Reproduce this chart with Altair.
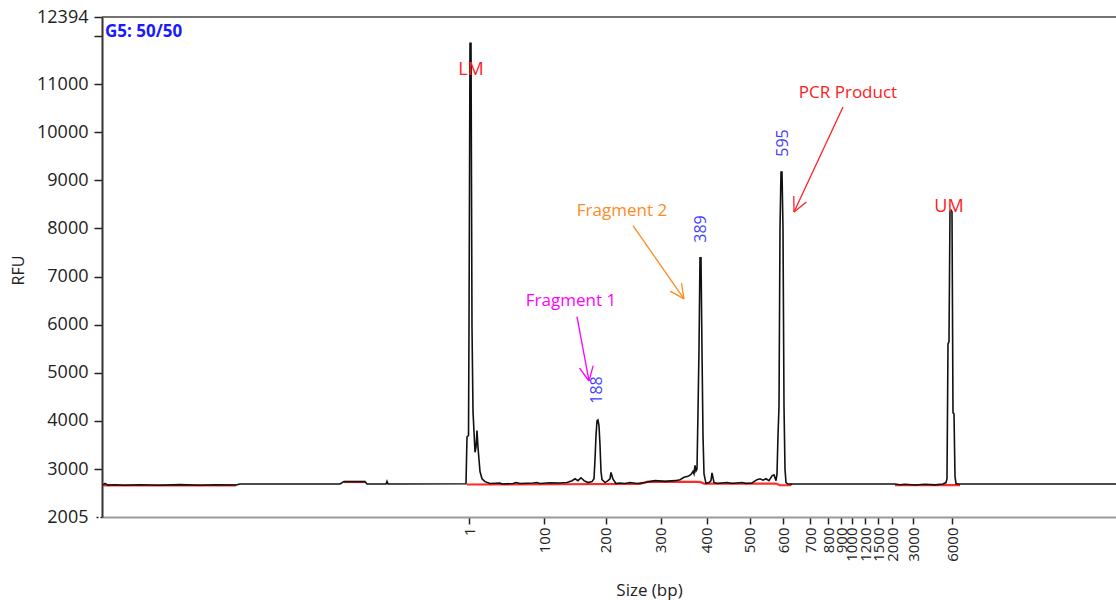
import math
import altair as alt
import pandas as pd

# ---------------- data ----------------
# black electropherogram trace (scan position, RFU)
trace_x = [103, 105, 108, 115, 125, 140, 160, 180, 200, 215, 236, 240,
           340, 344, 365, 367, 386, 387, 388,
           466, 467, 468.5, 469, 470, 471, 472, 473, 475, 476, 477, 478, 479, 480, 482, 485, 490,
           500, 502, 513, 516, 520, 533, 537, 540, 550, 560, 567, 572, 575, 578, 581, 584, 588, 592,
           594, 595, 596, 597, 598, 599, 600, 601, 602, 605, 608, 610, 611, 613, 616, 620, 625, 630,
           637, 645, 650, 655, 665, 675, 680, 684, 688, 691, 693, 694, 695, 696, 697,
           698, 699, 700, 701, 702, 703, 704, 706, 709, 711, 712, 714, 717, 722, 727, 732, 737, 742,
           746, 752, 757, 760, 763, 766, 769, 772, 774, 776, 777,
           778, 779, 780, 781, 782, 783, 784, 785, 786, 788,
           895, 900, 905, 915, 925, 935, 943, 946,
           947, 948, 949, 950, 951, 952, 953, 954, 955, 956, 958, 1116]
trace_rfu = [2672, 2700, 2668, 2676, 2664, 2676, 2666, 2677, 2666, 2676, 2670, 2690,
             2690, 2740, 2740, 2690, 2690, 2745, 2690,
             2695, 3667, 3700, 5950, 11850, 11850, 5950, 4200, 3350, 3450, 3800, 3450, 3200, 2950, 2800, 2740, 2700,
             2712, 2690, 2702, 2722, 2700, 2712, 2722, 2700, 2716, 2710, 2722, 2760, 2800, 2760, 2820, 2760, 2720, 2740,
             2800, 3200, 3700, 4000, 4020, 3900, 3500, 2950, 2780, 2720, 2760, 2800, 2930, 2790, 2700, 2712, 2700, 2722,
             2700, 2722, 2742, 2760, 2745, 2760, 2780, 2830, 2850, 2890, 2950, 2900, 3080, 2960, 3000,
             4200, 5500, 7390, 7390, 5450, 3700, 2900, 2700, 2722, 2760, 2920, 2722, 2700, 2712, 2722, 2700, 2712, 2722,
             2700, 2712, 2780, 2800, 2770, 2800, 2760, 2860, 2880, 2760, 2900,
             3700, 4300, 8000, 9170, 9170, 8000, 4300, 3000, 2720, 2690,
             2690, 2676, 2686, 2670, 2686, 2672, 2690, 2720,
             2800, 5600, 5650, 8350, 8380, 8350, 4170, 4150, 2850, 2700, 2690, 2690]

# red baseline (segments)
base_seg = ["a", "a", "b", "b", "c", "c", "c", "c", "c", "c", "c", "c", "c", "c", "d", "d"]
base_x = [103, 236, 344, 365, 467, 560, 640, 648, 700, 704, 776, 780, 790, 792, 895, 960]
base_rfu = [2662, 2662, 2732, 2732, 2680, 2685, 2695, 2738, 2735, 2700, 2700, 2665, 2665, 2688, 2668, 2668]

# size ladder on the x axis
ladder_sizes = ["1", "100", "200", "300", "400", "500", "600", "700", "800", "900",
                "1000", "1200", "1500", "2000", "3000", "6000"]
ladder_pos = [469, 544, 605.5, 660.5, 706.5, 749.5, 783, 810, 828, 841,
              851.5, 865, 878, 892, 913, 952]

y_ticks = [2005, 3000, 4000, 5000, 6000, 7000, 8000, 9000, 10000, 11000, 12000, 12394]

# marker labels
marker_text = ["LM", "UM"]
marker_x = [471, 949]
marker_rfu = [11293, 8446]

# called peak sizes
peak_text = ["188", "389", "595"]
peak_x = [597, 701, 783]
peak_rfu = [4644, 7989, 9776]

# annotations
note_text = ["Fragment 1", "Fragment 2", "PCR Product"]
note_color = ["#ff00ff", "#ff8a1e", "#ff2020"]
note_x = [571, 622, 848]
note_rfu = [6493, 8363, 10815]
arrow_x1 = [577, 633, 843]
arrow_rfu1 = [6170, 8061, 10522]
arrow_x2 = [589, 684, 794]
arrow_rfu2 = [4831, 6536, 8342]

sample_title = "G5: 50/50"

# ---------------- layout ----------------
X_DOMAIN = [102, 1116]
Y_DOMAIN = [2005, 12394]
W, H = 1014, 500
FONT = "Open Sans"

xs = alt.Scale(domain=X_DOMAIN, nice=False, zero=False)
ys = alt.Scale(domain=Y_DOMAIN, nice=False, zero=False)

trace_df = pd.DataFrame({"x": trace_x, "rfu": trace_rfu})
base_df = pd.DataFrame({"seg": base_seg, "x": base_x, "rfu": base_rfu})

# arrows: shaft + two barbs (computed in pixel space)
px_per_x = W / (X_DOMAIN[1] - X_DOMAIN[0])
px_per_y = H / (Y_DOMAIN[1] - Y_DOMAIN[0])
rows = []
for i in range(len(note_text)):
    c = note_color[i]
    rows.append(dict(id=f"{i}s", x=arrow_x1[i], y=arrow_rfu1[i], x2=arrow_x2[i], y2=arrow_rfu2[i], c=c))
    dx = (arrow_x2[i] - arrow_x1[i]) * px_per_x
    dy = -(arrow_rfu2[i] - arrow_rfu1[i]) * px_per_y
    L = math.hypot(dx, dy)
    ux, uy = -dx / L, -dy / L
    for k, a in enumerate([0.45, -0.45]):
        bx = ux * math.cos(a) - uy * math.sin(a)
        by = ux * math.sin(a) + uy * math.cos(a)
        rows.append(dict(id=f"{i}b{k}", x=arrow_x2[i], y=arrow_rfu2[i],
                         x2=arrow_x2[i] + bx * 16 / px_per_x,
                         y2=arrow_rfu2[i] - by * 16 / px_per_y, c=c))
arrow_df = pd.DataFrame(rows)

label_expr = "[" + ",".join(f"'{s}'" for s in ladder_sizes) + "][indexof([" + \
    ",".join(str(p) for p in ladder_pos) + "], datum.value)]"

x_axis = alt.Axis(values=ladder_pos, labelExpr=label_expr, labelAngle=270, labelAlign="right",
                  labelBaseline="middle", labelFont=FONT, labelFontSize=15, labelColor="#222",
                  labelPadding=3, labelOverlap=False, labelFlush=False, labelBound=False,
                  tickColor="#222", tickSize=7, tickWidth=1.5,
                  domainColor="#9a9a9a", domainWidth=2, grid=False,
                  title="Size (bp)", titleFont=FONT, titleFontSize=17, titleFontWeight="normal",
                  titleColor="#222", titleX=547, titleY=73, titleBaseline="middle", titleAlign="center")
y_axis = alt.Axis(values=y_ticks, format="d",
                  labelExpr="datum.value == 12000 ? '' : datum.label",
                  labelFont=FONT, labelFontSize=18, labelColor="#222", labelPadding=6,
                  labelOverlap=False, labelFlush=False, labelBound=False,
                  tickColor="#222", tickSize=8, tickWidth=1.5,
                  tickDash={"condition": {"test": "datum.value == 2005", "value": [2, 2]}, "value": []},
                  domainColor="#333", domainWidth=2, grid=False,
                  title="RFU", titleFont=FONT, titleFontSize=16, titleFontWeight="normal",
                  titleColor="#222", titleAngle=270, titleX=-84, titleY=253,
                  titleAlign="center", titleBaseline="middle")


def X(field):
    return alt.X(field, type="quantitative", scale=xs, axis=x_axis, title="Size (bp)")


def Y(field):
    return alt.Y(field, type="quantitative", scale=ys, axis=y_axis, title="RFU")


# top frame line of the plot box
frame = alt.Chart(pd.DataFrame({"k": [0]})).mark_rule(color="#444", strokeWidth=1.5).encode(
    x=alt.value(0), x2=alt.value(W), y=alt.value(0))

base = alt.Chart(base_df).mark_line(color="#ff2a2a", strokeWidth=2.2).encode(
    x=X("x"), y=Y("rfu"), detail="seg:N",
)

trace = alt.Chart(trace_df).mark_line(color="#111111", strokeWidth=1.6).encode(
    x=X("x"), y=Y("rfu"),
)

markers = alt.Chart(pd.DataFrame({"t": marker_text, "x": marker_x, "rfu": marker_rfu})).mark_text(
    font=FONT, fontSize=18, color="#ff2020", align="center", baseline="middle"
).encode(x=X("x"), y=Y("rfu"), text="t:N")

peaks = alt.Chart(pd.DataFrame({"t": peak_text, "x": peak_x, "rfu": peak_rfu})).mark_text(
    font=FONT, fontSize=16, color="#3f3fff", align="center", baseline="middle", angle=270
).encode(x=X("x"), y=Y("rfu"), text="t:N")

notes = alt.Chart(pd.DataFrame({"t": note_text, "x": note_x, "rfu": note_rfu, "c": note_color})).mark_text(
    font=FONT, fontSize=17, align="center", baseline="middle"
).encode(x=X("x"), y=Y("rfu"), text="t:N", color=alt.Color("c:N", scale=None))

arrows = alt.Chart(arrow_df).mark_rule(strokeWidth=1.3).encode(
    x=X("x"), y=Y("y"), x2="x2:Q", y2="y2:Q", color=alt.Color("c:N", scale=None), detail="id:N")

title = alt.Chart(pd.DataFrame({"t": [sample_title], "x": [105], "rfu": [12082]})).mark_text(
    font=FONT, fontSize=17, fontWeight="bold", color="#1a1aff", align="left", baseline="middle"
).encode(x=X("x"), y=Y("rfu"), text="t:N")

chart = alt.layer(base, trace, arrows, markers, peaks, notes, title, frame).properties(
    width=W, height=H,
    padding={"left": 102, "top": 17, "right": 0, "bottom": 83},
    autosize="none",
    background="white",
).configure_view(stroke=None)

chart.save("out.html", embed_options={"renderer": "svg", "actions": False})
